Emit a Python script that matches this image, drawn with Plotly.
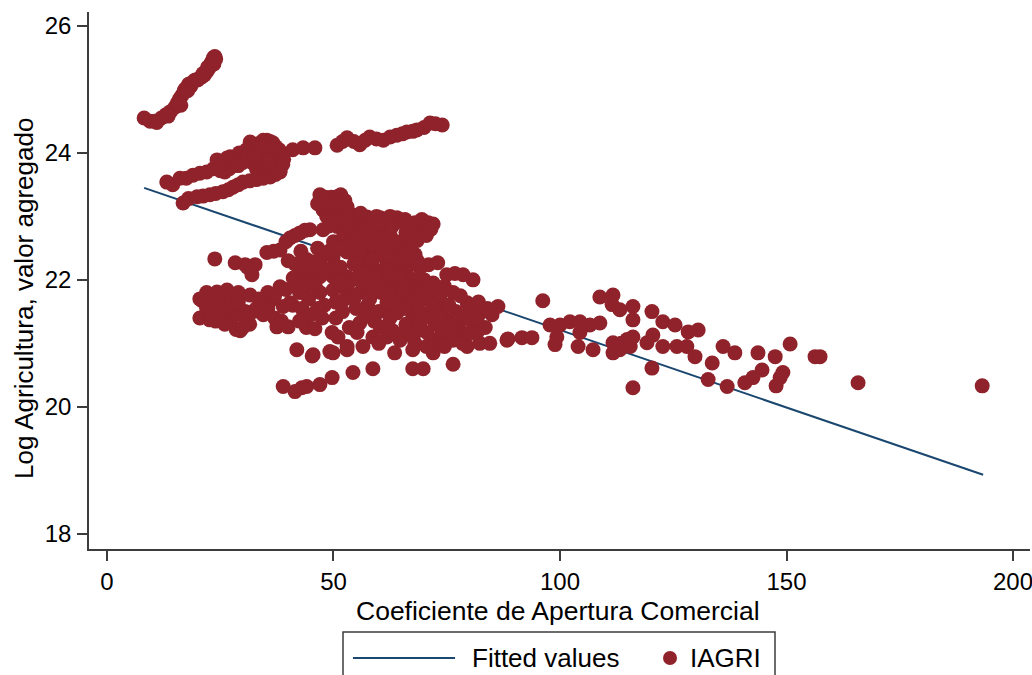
import plotly.graph_objects as go

# Log of agricultural value added vs. trade openness coefficient, with a linear fit.
# Points are (apertura comercial, log agricultura) pairs, grouped by region of the cloud.

chain_top = [
    (8.2, 24.55), (9.5, 24.50), (10.5, 24.50), (12.0, 24.55), (13.0, 24.60), (14.0, 24.65),
    (15.0, 24.72), (15.5, 24.78), (16.0, 24.85), (16.5, 24.90), (17.0, 24.97), (17.5, 25.02),
    (18.0, 25.08), (19.0, 25.12), (20.0, 25.15), (20.5, 25.18), (21.0, 25.20), (21.5, 25.23),
    (22.0, 25.28), (22.5, 25.33), (22.8, 25.38), (23.0, 25.42), (23.3, 25.45), (23.5, 25.50),
    (23.8, 25.52), (11.0, 24.48), (13.5, 24.58), (15.8, 24.80), (17.2, 25.00), (18.5, 25.05),
    (19.5, 25.15), (21.2, 25.25), (22.2, 25.35), (23.6, 25.40), (24.0, 25.48), (16.3, 24.75),
    (17.8, 24.98),
]

band_upper = [
    (13.2, 23.54), (14.5, 23.50), (16.1, 23.60), (17.5, 23.60), (19.0, 23.65), (20.5, 23.68),
    (22.0, 23.70), (23.5, 23.75), (24.3, 23.89), (25.5, 23.85), (26.5, 23.92), (27.2, 23.94),
    (28.5, 23.92), (29.2, 24.00), (30.0, 24.00), (30.8, 24.05), (31.6, 24.17), (32.5, 24.10),
    (33.5, 24.15), (34.5, 24.20), (35.3, 24.20), (36.0, 24.18), (36.6, 24.16), (37.2, 24.10),
    (38.0, 24.05), (41.0, 24.05), (43.3, 24.08), (45.9, 24.08), (35.5, 23.95), (36.5, 23.80),
    (37.5, 23.90), (38.2, 23.72), (38.8, 23.82), (34.0, 23.98), (33.0, 24.05), (36.8, 24.00),
    (35.0, 24.12), (32.0, 23.85), (33.0, 23.75), (34.0, 23.85), (35.0, 23.70), (36.0, 23.90),
    (37.0, 24.05), (38.5, 23.95), (39.0, 23.90), (33.5, 23.65), (31.0, 23.95), (30.0, 23.85),
    (29.0, 23.80), (28.0, 23.80), (27.0, 23.75), (26.0, 23.70), (25.0, 23.72), (32.5, 23.95),
]

band_right = [
    (50.8, 24.12), (52.0, 24.18), (53.0, 24.24), (54.5, 24.18), (55.8, 24.13), (57.0, 24.20),
    (58.0, 24.25), (59.5, 24.22), (61.0, 24.20), (62.5, 24.25), (64.0, 24.28), (65.2, 24.30),
    (66.2, 24.33), (67.5, 24.34), (68.4, 24.36), (70.0, 24.40), (71.3, 24.47), (72.5, 24.46),
    (74.0, 24.44),
]

band_lower = [
    (16.8, 23.21), (18.0, 23.28), (19.9, 23.31), (21.2, 23.32), (22.7, 23.34), (24.0, 23.36),
    (25.6, 23.39), (26.8, 23.42), (27.8, 23.46), (29.0, 23.50), (30.0, 23.54), (31.5, 23.56),
    (33.1, 23.58), (34.5, 23.60), (36.0, 23.62), (37.2, 23.66), (38.2, 23.70),
]

cluster_high = [
    (47.0, 23.34), (48.2, 23.30), (49.5, 23.30), (50.8, 23.31), (51.6, 23.34), (52.5, 23.25),
    (47.7, 23.10), (48.6, 23.15), (50.0, 23.12), (51.4, 22.99), (52.8, 23.05), (54.3, 23.02),
    (55.5, 23.00), (57.4, 22.99), (58.7, 22.97), (60.3, 22.98), (61.8, 22.96), (63.0, 22.92),
    (64.0, 22.98), (65.5, 22.90), (67.5, 22.83), (69.0, 22.80), (70.9, 22.90), (72.0, 22.88),
    (47.7, 22.79), (49.0, 22.85), (50.8, 22.84), (52.0, 22.90), (53.5, 22.82), (55.5, 22.78),
    (57.4, 22.74), (59.0, 22.76), (61.0, 22.74), (62.5, 22.70), (64.7, 22.60), (66.0, 22.65),
    (68.5, 22.62), (70.5, 22.70), (58.0, 22.52), (60.3, 22.39), (57.4, 22.32), (61.8, 22.27),
    (63.5, 22.35), (66.2, 22.20), (69.1, 22.19), (71.0, 22.24), (73.0, 22.27), (75.0, 22.08),
    (76.8, 22.10), (78.6, 22.08), (80.8, 22.00), (56.0, 22.45), (59.0, 22.55), (62.5, 22.50),
    (65.0, 22.40), (54.0, 22.60), (55.0, 22.65), (64.5, 22.45), (68.0, 22.40),
    (46.5, 23.20), (48.0, 23.20), (49.5, 23.15), (51.0, 23.20), (53.0, 23.15), (48.5, 23.00),
    (50.0, 22.95), (53.0, 22.95), (56.0, 22.90), (58.0, 22.85), (60.0, 22.88), (63.0, 22.85),
    (66.0, 22.75), (68.0, 22.90), (69.5, 22.95), (71.5, 22.80), (56.0, 23.05), (59.5, 23.00),
    (62.5, 23.00), (65.8, 22.95),
    (50.0, 22.60), (52.0, 22.65), (53.5, 22.55), (55.0, 22.35), (56.5, 22.60), (57.5, 22.20),
    (58.5, 22.70), (60.0, 22.60), (61.0, 22.45), (62.5, 22.38), (63.5, 22.60), (64.0, 22.20),
    (65.5, 22.30), (67.0, 22.50), (68.5, 22.30), (66.5, 22.05), (61.5, 22.15), (70.0, 22.00),
    (72.0, 21.95),
]

chain_fit = [
    (35.3, 22.43), (36.8, 22.45), (38.2, 22.47), (39.5, 22.60), (40.4, 22.66), (41.5, 22.70),
    (42.6, 22.74), (43.7, 22.78), (44.8, 22.79), (23.8, 22.33), (28.3, 22.27), (30.5, 22.24),
    (32.7, 22.24), (32.0, 22.08), (31.0, 22.20),
]

cluster_left = [
    (21.0, 21.67), (24.3, 21.81), (26.5, 21.84), (29.0, 21.80), (31.6, 21.76), (23.4, 21.64),
    (25.6, 21.61), (28.3, 21.58), (20.5, 21.40), (22.7, 21.37), (25.4, 21.37), (27.8, 21.42),
    (29.4, 21.20), (28.5, 21.22), (32.2, 21.50), (34.2, 21.61), (36.4, 21.69), (38.2, 21.89),
    (38.9, 21.58), (40.4, 21.64), (37.5, 21.26), (40.0, 21.26), (26.0, 21.50), (30.5, 21.50),
    (33.5, 21.70), (35.5, 21.80), (37.0, 21.75), (39.5, 21.85), (27.0, 21.70), (22.0, 21.55),
    (24.5, 21.50), (22.0, 21.80), (23.0, 21.45), (24.5, 21.70), (26.0, 21.30), (27.5, 21.60),
    (29.0, 21.65), (30.5, 21.40), (31.5, 21.30), (33.0, 21.55), (34.5, 21.45), (35.5, 21.55),
    (37.0, 21.40), (38.5, 21.35), (30.0, 21.25), (24.0, 21.35), (20.5, 21.70),
]

cluster_core = [
    (41.1, 22.03), (43.3, 22.05), (45.3, 22.28), (47.0, 22.32), (49.9, 22.36), (53.0, 22.44),
    (55.8, 22.47), (44.1, 22.32), (44.1, 22.03), (47.0, 22.05), (49.9, 22.05), (53.0, 22.05),
    (55.8, 22.16), (47.0, 21.80), (49.9, 21.84), (53.0, 21.84), (55.8, 21.80), (58.7, 21.84),
    (61.8, 21.95), (64.7, 22.05), (67.5, 22.00), (70.6, 21.89), (42.5, 21.80), (44.5, 21.70),
    (46.0, 21.90), (48.5, 22.15), (51.5, 22.20), (54.5, 22.25), (57.0, 22.10), (59.5, 22.15),
    (52.0, 21.95), (50.5, 21.65), (52.5, 21.70), (56.5, 21.95), (60.0, 22.00), (45.5, 22.15),
    (43.0, 22.20), (42.0, 21.90), (48.0, 21.60), (51.0, 22.50), (49.0, 22.45), (58.5, 22.30),
    (62.5, 22.10), (66.0, 21.90), (68.5, 21.85), (57.5, 21.60), (55.0, 21.55),
    (63.0, 21.90), (60.5, 21.80), (59.0, 22.05), (64.0, 21.85), (66.0, 21.75), (68.5, 21.70),
    (50.0, 22.20), (51.5, 21.95), (54.0, 22.00), (54.5, 21.70), (58.0, 21.70), (60.0, 21.50),
    (62.5, 21.50), (59.0, 21.35),
    (40.0, 22.30), (41.5, 22.25), (42.8, 22.45), (46.5, 22.50), (47.5, 22.20), (41.0, 21.60),
    (43.0, 21.55), (45.0, 21.45), (46.5, 21.55), (44.0, 21.25), (42.5, 21.35), (47.5, 21.40),
    (50.5, 21.40), (52.0, 21.50), (53.5, 21.25), (51.0, 21.10), (43.8, 21.90), (45.5, 21.95),
]

cluster_low = [
    (61.8, 21.64), (64.7, 21.69), (67.5, 21.64), (70.6, 21.69), (73.5, 21.73), (76.4, 21.80),
    (79.5, 21.64), (82.3, 21.48), (64.0, 21.48), (67.5, 21.42), (71.3, 21.48), (75.0, 21.37),
    (80.8, 21.32), (55.8, 21.32), (60.3, 21.26), (55.2, 21.17), (58.7, 21.10), (61.8, 21.10),
    (64.7, 21.05), (67.5, 21.10), (70.6, 21.17), (73.5, 21.10), (76.4, 21.05), (79.5, 20.95),
    (82.3, 21.00), (84.5, 21.00), (88.3, 21.05), (53.0, 20.95), (49.2, 20.87), (45.5, 20.82),
    (41.9, 20.90), (67.5, 20.90), (72.0, 20.85), (76.4, 20.67), (67.5, 20.60), (69.8, 20.60),
    (58.7, 20.60), (54.3, 20.54), (81.7, 21.17), (81.7, 21.37), (80.1, 21.56), (62.5, 21.40),
    (66.0, 21.30), (69.0, 21.30), (72.5, 21.30), (74.0, 21.55), (77.0, 21.50), (78.0, 21.20),
    (63.0, 21.20), (57.0, 21.45), (65.5, 21.55), (69.0, 21.50), (71.5, 21.00), (74.5, 20.95),
    (60.0, 21.00), (56.5, 20.95), (63.5, 20.85), (45.9, 21.23), (49.7, 21.17), (45.3, 20.80),
    (49.9, 20.85), (53.0, 20.90),
    (66.0, 21.20), (68.0, 21.00), (70.0, 21.40), (72.0, 21.55), (73.5, 21.40), (75.5, 21.60),
    (77.5, 21.35), (79.0, 21.40), (76.0, 21.20), (74.0, 21.20), (78.5, 21.00), (80.0, 21.15),
    (83.5, 21.25), (85.0, 21.45), (70.5, 20.95), (68.5, 21.20), (63.5, 21.65), (62.0, 21.75),
    (65.5, 21.85), (69.5, 21.80), (72.0, 21.85), (74.5, 21.90), (78.0, 21.75), (82.0, 21.65),
    (84.0, 21.55),
]

row_bottom = [
    (38.9, 20.32), (41.5, 20.24), (43.0, 20.30), (44.1, 20.32), (47.0, 20.35), (49.7, 20.46),
]

spread_right = [
    (86.3, 21.58), (96.2, 21.67), (88.5, 21.07), (91.6, 21.09), (93.8, 21.09), (97.8, 21.29),
    (100.0, 21.29), (102.2, 21.34), (104.4, 21.34), (106.6, 21.29), (108.8, 21.32), (99.3, 21.10),
    (98.9, 20.98), (104.4, 21.17), (104.0, 20.95), (107.3, 20.90), (108.8, 21.73), (111.7, 21.76),
    (111.5, 21.61), (113.2, 21.53), (116.1, 21.58), (116.1, 21.37), (120.3, 21.50), (111.7, 21.01),
    (113.2, 20.90), (114.8, 21.06), (116.1, 21.10), (111.7, 20.85), (113.5, 21.00), (115.5, 20.95),
    (119.2, 21.01), (120.5, 21.13), (122.7, 20.95), (125.8, 20.95), (128.0, 20.95), (129.8, 20.79),
    (122.7, 21.34), (125.4, 21.29), (128.3, 21.18), (130.5, 21.21), (120.3, 20.61), (133.6, 20.69),
    (136.0, 20.95), (138.6, 20.85), (132.7, 20.43), (136.9, 20.32), (116.1, 20.30), (143.7, 20.85),
    (147.5, 20.79), (150.8, 20.99), (144.6, 20.58), (142.6, 20.46), (140.8, 20.38), (149.2, 20.54),
    (148.6, 20.46), (147.7, 20.33), (156.3, 20.79), (157.4, 20.79), (165.8, 20.38), (193.2, 20.33),
]

# Linear fit drawn between the smallest and largest openness values
fit_x = [8.2, 193.4]
fit_y = [23.45, 18.93]

x_ticks = [0, 50, 100, 150, 200]
y_ticks = [18, 20, 22, 24, 26]

groups = [chain_top, band_upper, band_right, band_lower, cluster_high, chain_fit,
          cluster_left, cluster_core, cluster_low, row_bottom, spread_right]
iagri_x = [p[0] for g in groups for p in g]
iagri_y = [p[1] for g in groups for p in g]

NAVY = "#1A476F"
MAROON = "#8F222A"
AXIS = "#3c3c3c"
FONT = "Liberation Sans, Arial, sans-serif"

W, H = 1032, 675
ML, MR, MT, MB = 89, 2, 12, 126
PW, PH = W - ML - MR, H - MT - MB


def px(xp):
    return (xp - ML) / PW


def py(yp):
    return (H - MB - yp) / PH


fig = go.Figure()
fig.add_trace(go.Scatter(
    x=fit_x, y=fit_y, mode="lines", name="Fitted values",
    line=dict(color=NAVY, width=2), showlegend=False,
))
fig.add_trace(go.Scatter(
    x=iagri_x, y=iagri_y, mode="markers", name="IAGRI",
    marker=dict(color=MAROON, size=15, line=dict(width=0)), showlegend=False,
))

axis_common = dict(
    showgrid=False, zeroline=False, showline=True, linecolor=AXIS, linewidth=1.5,
    ticks="outside", ticklen=10, tickwidth=1.5, tickcolor=AXIS,
    tickfont=dict(family=FONT, size=24, color="black"),
)
fig.update_xaxes(range=[-3.97, 203.75], tickvals=x_ticks, ticklabeloverflow="allow", **axis_common)
fig.update_yaxes(range=[17.76, 26.22], tickvals=y_ticks, ticklabelstandoff=1, **axis_common)

annotations = [
    dict(text="Coeficiente de Apertura Comercial", x=px(558), y=py(611),
         xanchor="center", yanchor="middle", showarrow=False,
         font=dict(family=FONT, size=26.5, color="black")),
    dict(text="Log Agricultura, valor agregado", x=px(24), y=py(299), textangle=-90,
         xanchor="center", yanchor="middle", showarrow=False,
         font=dict(family=FONT, size=26, color="black")),
    dict(text="Fitted values", x=px(470), y=py(658), xanchor="left", yanchor="middle",
         showarrow=False, font=dict(family=FONT, size=26, color="black")),
    dict(text="IAGRI", x=px(688), y=py(658), xanchor="left", yanchor="middle",
         showarrow=False, font=dict(family=FONT, size=26, color="black")),
]
for a in annotations:
    a.update(xref="paper", yref="paper")

shapes = [
    # legend frame
    dict(type="rect", xref="paper", yref="paper", x0=px(343), x1=px(775), y0=py(700), y1=py(632),
         line=dict(color=AXIS, width=1.5), fillcolor="white", layer="above"),
    # legend keys
    dict(type="line", xref="paper", yref="paper", x0=px(353), x1=px(455), y0=py(658), y1=py(658),
         line=dict(color=NAVY, width=2)),
    dict(type="circle", xref="paper", yref="paper", x0=px(663), x1=px(677), y0=py(665), y1=py(651),
         line=dict(width=0), fillcolor=MAROON),
]

fig.update_layout(
    width=W, height=H,
    margin=dict(l=ML, r=MR, t=MT, b=MB, autoexpand=False),
    paper_bgcolor="white", plot_bgcolor="white",
    annotations=annotations, shapes=shapes,
    showlegend=False,
)

fig.write_html("out.html")
